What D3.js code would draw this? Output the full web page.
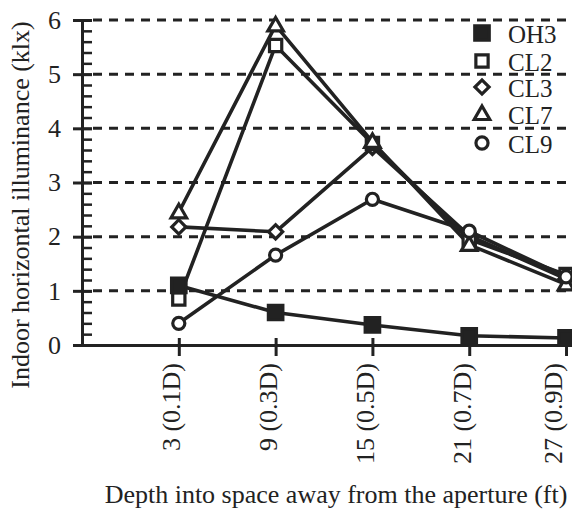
<!DOCTYPE html>
<html>
<head>
<meta charset="utf-8">
<script src="https://cdn.jsdelivr.net/npm/d3@7"></script>
<style>
  html, body { margin: 0; padding: 0; background: #fff; }
  svg { display: block; }
  text { font-family: "Liberation Serif", "Times New Roman", serif; fill: #222; }
</style>
</head>
<body>
<svg id="chart" width="572" height="515"></svg>
<script>
// ---- data ----
const depths = [3, 9, 15, 21, 27];
const depthLabels = ["3 (0.1D)", "9 (0.3D)", "15 (0.5D)", "21 (0.7D)", "27 (0.9D)"];
const seriesNames = ["OH3", "CL2", "CL3", "CL7", "CL9"];
const OH3 = [1.1, 0.6, 0.37, 0.17, 0.13];
const CL2 = [0.85, 5.53, 3.72, 1.95, 1.3];
const CL3 = [2.18, 2.09, 3.65, 2.02, 1.22];
const CL7 = [2.45, 5.9, 3.75, 1.85, 1.12];
const CL9 = [0.4, 1.66, 2.69, 2.1, 1.26];
const yTicks = [0, 1, 2, 3, 4, 5, 6];
const xTitle = "Depth into space away from the aperture (ft)";
const yTitle = "Indoor horizontal illuminance (klx)";

const seriesValues = { OH3, CL2, CL3, CL7, CL9 };
const markerType = { OH3: "filledSquare", CL2: "square", CL3: "diamond", CL7: "triangle", CL9: "circle" };

const ink = "#222";
const svg = d3.select("#chart");

const x = d3.scaleLinear().domain([-3, 27.37]).range([82, 572]);
const y = d3.scaleLinear().domain([0, 6]).range([345, 20]);

// gridlines
svg.append("g").selectAll("line").data(yTicks.filter(d => d > 0)).join("line")
  .attr("x1", 93).attr("x2", 572)
  .attr("y1", d => y(d)).attr("y2", d => y(d))
  .attr("stroke", ink).attr("stroke-width", 3)
  .attr("stroke-dasharray", "9,7");

// y axis: minor ticks (inward)
const minor = d3.range(0, 6.001, 0.2);
svg.append("g").attr("transform", "translate(82,0)")
  .call(d3.axisLeft(y).tickValues(minor).tickSize(-10).tickSizeOuter(0).tickFormat(""))
  .call(g => g.select(".domain").attr("stroke", ink).attr("stroke-width", 3))
  .call(g => g.selectAll(".tick line").attr("stroke", ink).attr("stroke-width", 2.5));

// y axis: major ticks & labels
svg.append("g").attr("transform", "translate(82,0)")
  .call(d3.axisLeft(y).tickValues(yTicks).tickSize(9).tickSizeOuter(0).tickPadding(12).tickFormat(d3.format("d")))
  .call(g => g.select(".domain").remove())
  .call(g => g.selectAll(".tick line").attr("x2", 10).attr("x1", -9).attr("stroke", ink).attr("stroke-width", 3))
  .call(g => g.selectAll(".tick text").attr("x", -21).attr("font-size", 26)
      .attr("font-family", "'Liberation Serif', serif").attr("fill", ink));

// x axis
svg.append("g").attr("transform", "translate(0,345)")
  .call(d3.axisBottom(x).tickValues(depths).tickSize(10).tickSizeOuter(0).tickFormat((d, i) => depthLabels[i]))
  .call(g => g.select(".domain").attr("stroke", ink).attr("stroke-width", 3))
  .call(g => g.selectAll(".tick line").attr("y1", -7).attr("y2", 11).attr("stroke", ink).attr("stroke-width", 3))
  .call(g => g.selectAll(".tick text")
      .attr("font-size", 26).attr("font-family", "'Liberation Serif', serif").attr("fill", ink)
      .attr("text-anchor", "end").attr("dy", "0")
      .attr("transform", (d, i) => `translate(${i === depths.length - 1 ? -5 : 1},18) rotate(-90)`)
      .attr("x", 0).attr("y", 0));

// axis titles
svg.append("text").attr("x", 336).attr("y", 503).attr("text-anchor", "middle")
  .attr("font-size", 26).text(xTitle);
svg.append("text").attr("transform", "translate(29,205) rotate(-90)").attr("text-anchor", "middle")
  .attr("font-size", 26).text(yTitle);

// lines
const line = d3.line().x((d, i) => x(depths[i])).y(d => y(d));
const drawOrder = ["CL3", "CL2", "OH3", "CL7", "CL9"];
svg.append("g").selectAll("path").data(drawOrder).join("path")
  .attr("d", k => line(seriesValues[k]))
  .attr("fill", "none").attr("stroke", ink).attr("stroke-width", 3.6).attr("stroke-linejoin", "round");

function symbolPath(type) {
  switch (type) {
    case "filledSquare": return d3.symbol(d3.symbolSquare, 210)();
    case "square": return d3.symbol(d3.symbolSquare, 150)();
    case "diamond": return d3.symbol(d3.symbolSquare, 100)();
    case "triangle": return d3.symbol(d3.symbolTriangle, 105)();
    case "circle": return d3.symbol(d3.symbolCircle, 115)();
  }
}
function drawMarker(g, type, cx, cy) {
  g.append("path")
    .attr("d", symbolPath(type))
    .attr("transform", `translate(${cx},${cy})` + (type === "diamond" ? " rotate(45)" : "") + (type === "triangle" ? " translate(0,1)" : ""))
    .attr("fill", type === "filledSquare" ? ink : "#fff")
    .attr("stroke", ink).attr("stroke-width", 3.2);
}

const mg = svg.append("g");
drawOrder.forEach(k => {
  seriesValues[k].forEach((v, i) => drawMarker(mg, markerType[k], x(depths[i]), y(v)));
});

// legend
const legendY = [33, 61, 87, 114, 143];
const lg = svg.append("g");
seriesNames.forEach((k, i) => {
  drawMarker(lg, markerType[k], 482, legendY[i]);
  lg.append("text").attr("x", 508).attr("y", legendY[i] + 10).attr("font-size", 25).text(k);
});
</script>
</body>
</html>
